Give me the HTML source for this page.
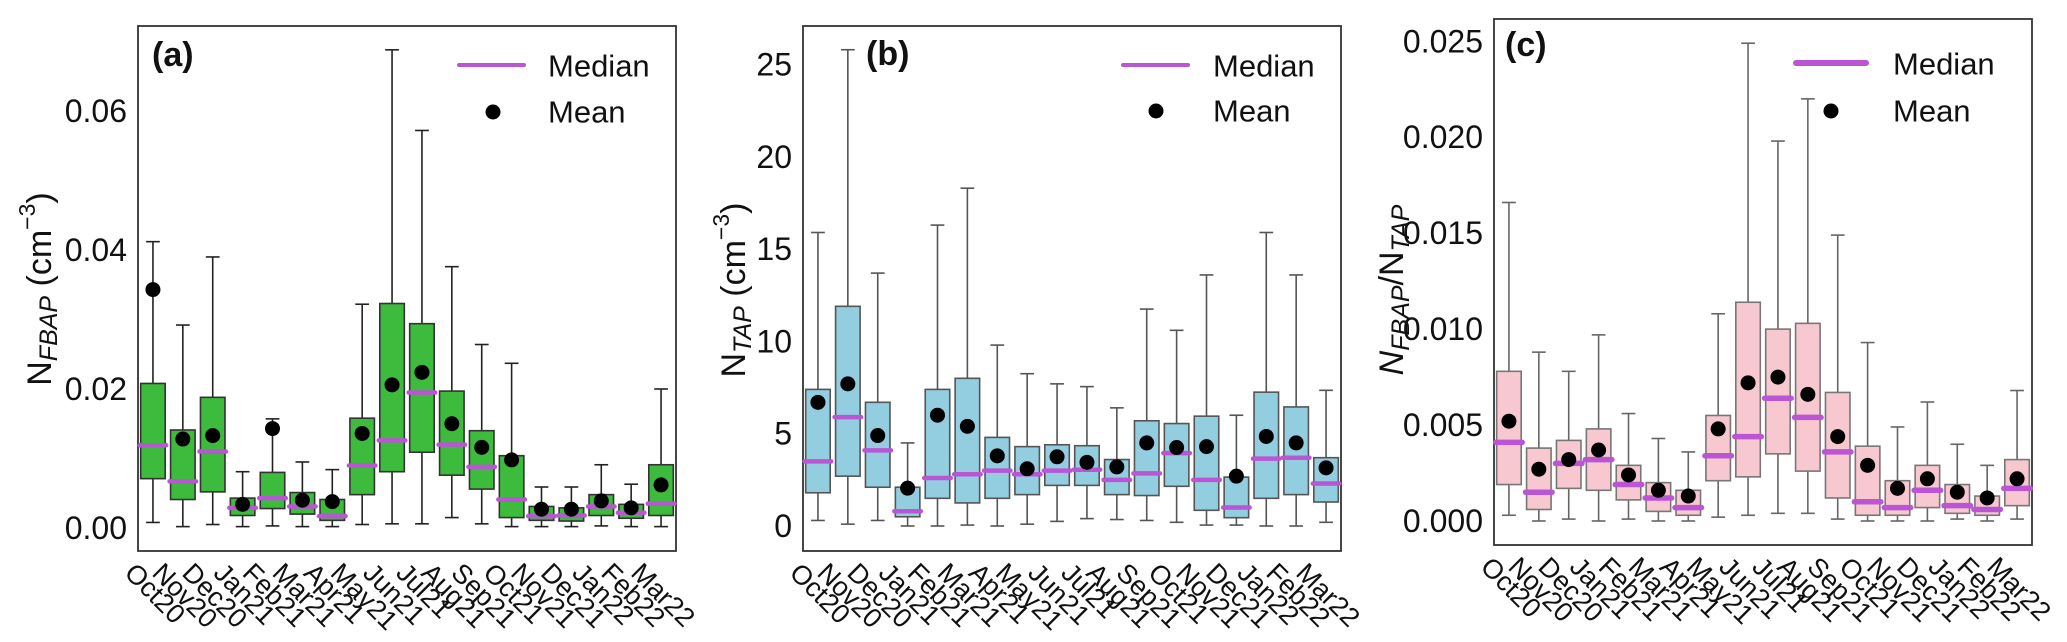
<!DOCTYPE html>
<html><head><meta charset="utf-8"><style>
html,body{margin:0;padding:0;background:#fff;}
svg{display:block;font-family:"Liberation Sans",Arial,sans-serif;}
</style></head><body>
<svg id="fig" width="2067" height="642" viewBox="0 0 2067 642"></svg>
<script>
const categories=["Oct20","Nov20","Dec20","Jan21","Feb21","Mar21","Apr21","May21","Jun21","Jul21","Aug21","Sep21","Oct21","Nov21","Dec21","Jan22","Feb22","Mar22"];
// Panel a: N_FBAP
const aLow=[0.0008,0.0002,0.0005,0.0002,0.0003,0.0002,0.0002,0.0005,0.0006,0.0006,0.0015,0.0006,0.0002,0.0002,0.0002,0.0003,0.0002,0.0002];
const aQ1=[0.0071,0.0041,0.0052,0.0018,0.0028,0.0020,0.0011,0.0048,0.0081,0.0109,0.0076,0.0056,0.0015,0.0011,0.0010,0.0018,0.0014,0.0018];
const aMed=[0.0119,0.0067,0.0110,0.0029,0.0043,0.0031,0.0017,0.0090,0.0126,0.0195,0.0120,0.0088,0.0041,0.0017,0.0018,0.0031,0.0022,0.0035];
const aQ3=[0.0208,0.0141,0.0188,0.0043,0.0080,0.0051,0.0041,0.0158,0.0323,0.0294,0.0197,0.0140,0.0104,0.0031,0.0029,0.0048,0.0034,0.0091];
const aHigh=[0.0412,0.0292,0.0390,0.0081,0.0157,0.0095,0.0084,0.0322,0.0688,0.0572,0.0376,0.0264,0.0237,0.0059,0.0059,0.0091,0.0063,0.0200];
const aMean=[0.0343,0.0128,0.0133,0.0034,0.0143,0.0040,0.0038,0.0136,0.0206,0.0224,0.0150,0.0116,0.0098,0.0027,0.0027,0.0039,0.0029,0.0062];
const aTicks=[0,0.02,0.04,0.06];
const aTickLabels=["0.00","0.02","0.04","0.06"];
// Panel b: N_TAP
const bLow=[0.3,0.1,0.3,0.0,0.0,0.05,0.0,0.1,0.25,0.4,0.35,0.3,0.2,0.05,0.05,0.0,0.0,0.2];
const bQ1=[1.8,2.7,2.1,0.5,1.5,1.25,1.5,1.7,2.2,2.2,1.7,1.65,2.15,0.85,0.45,1.5,1.7,1.3];
const bMed=[3.5,5.9,4.1,0.8,2.6,2.8,3.0,2.8,3.0,3.05,2.5,2.85,3.95,2.5,1.0,3.65,3.7,2.3];
const bQ3=[7.4,11.9,6.7,2.1,7.4,8.0,4.8,4.3,4.4,4.35,3.6,5.7,5.55,5.95,2.65,7.25,6.45,3.7];
const bHigh=[15.9,25.8,13.7,4.5,16.3,18.3,9.8,8.25,7.7,7.55,6.4,11.75,10.6,13.6,6.0,15.9,13.6,7.35];
const bMean=[6.7,7.7,4.9,2.05,6.0,5.4,3.8,3.1,3.75,3.45,3.2,4.5,4.25,4.3,2.7,4.85,4.5,3.15];
const bTicks=[0,5,10,15,20,25];
const bTickLabels=["0","5","10","15","20","25"];
// Panel c: ratio
const cLow=[0.0003,0.0000,0.0001,0.0000,0.0001,0.0000,0.0000,0.0002,0.0003,0.0004,0.0004,0.0001,0.0000,0.0000,0.0000,0.0001,0.0000,0.0001];
const cQ1=[0.0019,0.0006,0.0017,0.0016,0.0011,0.0005,0.0003,0.0021,0.0023,0.0035,0.0026,0.0012,0.0003,0.0003,0.0007,0.0004,0.0003,0.0008];
const cMed=[0.0041,0.0015,0.0030,0.0032,0.0019,0.0012,0.0007,0.0034,0.0044,0.0064,0.0054,0.0036,0.0010,0.0007,0.0016,0.0008,0.0006,0.0017];
const cQ3=[0.0078,0.0038,0.0042,0.0048,0.0029,0.0020,0.0016,0.0055,0.0114,0.0100,0.0103,0.0067,0.0039,0.0021,0.0029,0.0019,0.0013,0.0032];
const cHigh=[0.0166,0.0088,0.0078,0.0097,0.0056,0.0043,0.0036,0.0108,0.0249,0.0198,0.0220,0.0149,0.0093,0.0049,0.0062,0.0040,0.0029,0.0068];
const cMean=[0.0052,0.0027,0.0032,0.0037,0.0024,0.0016,0.0013,0.0048,0.0072,0.0075,0.0066,0.0044,0.0029,0.0017,0.0022,0.0015,0.0012,0.0022];
const cTicks=[0,0.005,0.010,0.015,0.020,0.025];
const cTickLabels=["0.000","0.005","0.010","0.015","0.020","0.025"];

const NS="http://www.w3.org/2000/svg";
const svg=document.getElementById("fig");
function mk(tag,attrs,parent){const e=document.createElementNS(NS,tag);for(const k in attrs)e.setAttribute(k,attrs[k]);(parent||svg).appendChild(e);return e;}

function drawPanel(p){
  const g=mk("g",{});
  
  
  const step=(p.x1-p.x0)/categories.length;
  const xs=i=>p.x0+(i+0.5)*step;
  const ys=v=>p.zeroY-v*p.scale;
  const bw=step*0.82, cw=step*0.46;
  const fr=mk("rect",{x:p.x0,y:p.y0,width:p.x1-p.x0,height:p.y1-p.y0,fill:"none",stroke:"#333","stroke-width":1.8},g);
  
  
  p.ticks.forEach((t,i)=>{
    const tx=mk("text",{x:p.x0-11,y:ys(t),"text-anchor":"end","dominant-baseline":"central","font-size":32,fill:"#111"},g);
    tx.textContent=p.tickLabels[i];
    
    
  });
  categories.forEach((c,i)=>{
    const x=xs(i);
    const bg=mk("g",{},g);
    
    
    mk("line",{x1:x,x2:x,y1:ys(p.high[i]),y2:ys(p.q3[i]),stroke:p.wc,"stroke-width":1.6},bg);
    mk("line",{x1:x,x2:x,y1:ys(p.q1[i]),y2:ys(p.low[i]),stroke:p.wc,"stroke-width":1.6},bg);
    mk("line",{x1:x-cw/2,x2:x+cw/2,y1:ys(p.high[i]),y2:ys(p.high[i]),stroke:p.wc,"stroke-width":1.6},bg);
    mk("line",{x1:x-cw/2,x2:x+cw/2,y1:ys(p.low[i]),y2:ys(p.low[i]),stroke:p.wc,"stroke-width":1.6},bg);
    mk("rect",{x:x-bw/2,y:ys(p.q3[i]),width:bw,height:Math.max(1,ys(p.q1[i])-ys(p.q3[i])),fill:p.fill,stroke:p.ec,"stroke-width":1.6},bg);
    mk("line",{x1:x-bw/2-1,x2:x+bw/2+1,y1:ys(p.med[i]),y2:ys(p.med[i]),stroke:"#ba55d3","stroke-width":p.mw,"stroke-linecap":"round"},bg);
    mk("circle",{cx:x,cy:ys(p.mean[i]),r:7.5,fill:"#000"},bg);
    const lt=mk("text",{"text-anchor":"middle","dominant-baseline":"central","font-size":27,fill:"#111"},g);
    lt.textContent=c;
    
    
    const L=lt.getComputedTextLength?lt.getComputedTextLength():c.length*15;
    const cy=p.y1+10+(L+20)*0.707/2;
    lt.setAttribute("x",x+2);lt.setAttribute("y",cy);
    lt.setAttribute("transform","rotate(45 "+(x+2)+" "+cy+")");
  });
  const pl=mk("text",{x:p.lx,y:p.ly,"dominant-baseline":"central","font-size":34,"font-weight":"bold",fill:"#111"},g);
  pl.textContent=p.letter;
  
  
  const lg=mk("g",{},g);
  
  
  mk("line",{x1:p.legX1,x2:p.legX2,y1:p.legY1,y2:p.legY1,stroke:"#ba55d3","stroke-width":p.legW,"stroke-linecap":"round"},lg);
  const t1=mk("text",{x:p.legT,y:p.legY1+1,"dominant-baseline":"central","font-size":31,fill:"#111"},lg);
  t1.textContent="Median";
  
  
  mk("circle",{cx:p.legDot,cy:p.legY2,r:7.5,fill:"#000"},lg);
  const t2=mk("text",{x:p.legT,y:p.legY2,"dominant-baseline":"central","font-size":31,fill:"#111"},lg);
  t2.textContent="Mean";
  
  
  return g;
}

drawPanel({name:"panel-a",x0:138,x1:676,y0:26,y1:551,zeroY:528,scale:6950,ticks:aTicks,tickLabels:aTickLabels,
  low:aLow,q1:aQ1,med:aMed,q3:aQ3,high:aHigh,mean:aMean,fill:"#3dbb3d",ec:"#333",wc:"#222",mw:4.5,
  letter:"(a)",lx:152,ly:55,legX1:459,legX2:524,legY1:65,legY2:112,legT:548,legDot:493,legW:4});
drawPanel({name:"panel-b",x0:803,x1:1341,y0:26,y1:551,zeroY:526,scale:18.46,ticks:bTicks,tickLabels:bTickLabels,
  low:bLow,q1:bQ1,med:bMed,q3:bQ3,high:bHigh,mean:bMean,fill:"#92cde0",ec:"#555",wc:"#555",mw:4.5,
  letter:"(b)",lx:866,ly:54,legX1:1123,legX2:1188,legY1:65,legY2:111,legT:1213,legDot:1156,legW:4});
drawPanel({name:"panel-c",x0:1494,x1:2032,y0:19,y1:545,zeroY:521,scale:19188,ticks:cTicks,tickLabels:cTickLabels,
  low:cLow,q1:cQ1,med:cMed,q3:cQ3,high:cHigh,mean:cMean,fill:"#f8c8d0",ec:"#777",wc:"#666",mw:5.5,
  letter:"(c)",lx:1505,ly:45,legX1:1796,legX2:1866,legY1:63,legY2:111,legT:1893,legDot:1831,legW:6});

function yTitle(x,y,name,parts){
  const t=mk("text",{x:x,y:y,"text-anchor":"middle","dominant-baseline":"central","font-size":34,fill:"#111",transform:"rotate(-90 "+x+" "+y+")"});
  
  
  parts.forEach(pp=>{const s=mk("tspan",{},t);s.textContent=pp[0];
    if(pp[1]==="sub"){s.setAttribute("font-size",25);s.setAttribute("font-style","italic");s.setAttribute("dy",9);}
    if(pp[1]==="up"){s.setAttribute("dy",-9);}
    if(pp[1]==="sup"){s.setAttribute("font-size",23);s.setAttribute("dy",-13);}
    if(pp[1]==="supend"){s.setAttribute("dy",13);}
  });
}
yTitle(40,289,"y-axis-title-a",[["N",""],["FBAP","sub"],[" (cm","up"],["−3","sup"],[")","supend"]]);
yTitle(734,290,"y-axis-title-b",[["N",""],["TAP","sub"],[" (cm","up"],["−3","sup"],[")","supend"]]);
(function(){
  const x=1392,y=290;
  const t=mk("text",{x:x,y:y,"text-anchor":"middle","dominant-baseline":"central","font-size":34,fill:"#111",transform:"rotate(-90 "+x+" "+y+")"});
  
  
  const parts=[["N","it"],["FBAP","sub"],["/N","up"],["TAP","sub"]];
  parts.forEach(pp=>{const s=mk("tspan",{},t);s.textContent=pp[0];
    if(pp[1]==="it"){s.setAttribute("font-style","italic");}
    if(pp[1]==="sub"){s.setAttribute("font-size",25);s.setAttribute("font-style","italic");s.setAttribute("dy",9);}
    if(pp[1]==="up"){s.setAttribute("dy",-9);}
  });
})();
</script>
</body></html>
